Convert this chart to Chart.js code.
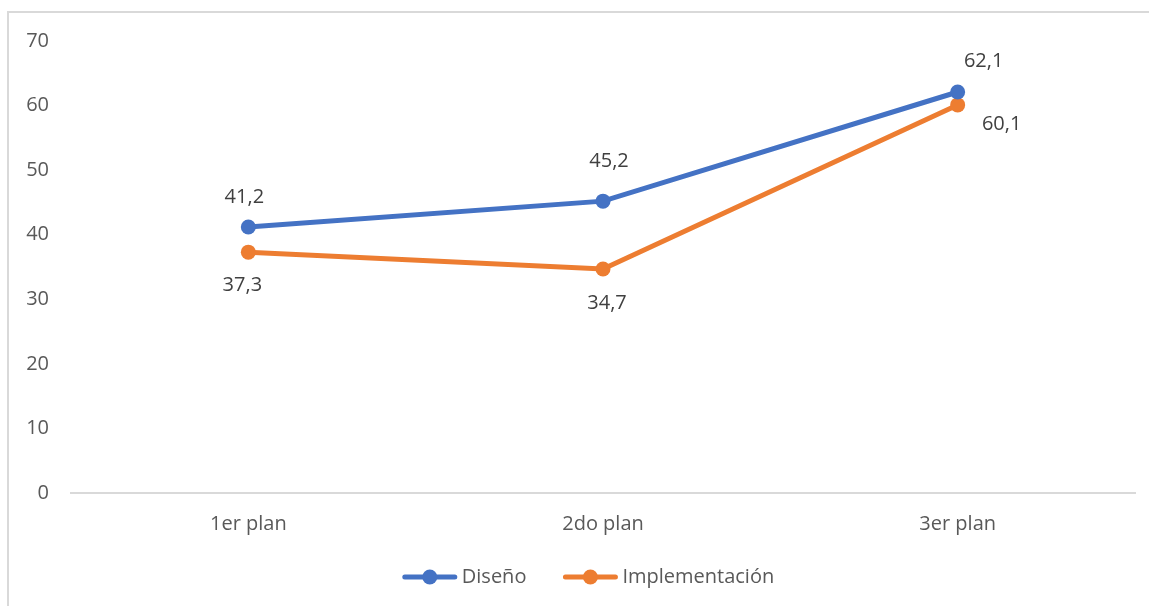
<!DOCTYPE html>
<html>
<head>
<meta charset="utf-8">
<script src="https://cdn.jsdelivr.net/npm/chart.js@4/dist/chart.umd.min.js"></script>
<style>
  body { margin: 0; background: #fff; }
  #wrap { position: relative; width: 1149px; height: 606px; overflow: hidden; }
  #frame { position: absolute; left: 7px; top: 11px; width: 1200px; height: 700px; border: 2px solid #d9d9d9; box-sizing: border-box; }
  canvas { position: absolute; left: 0; top: 0; }
</style>
</head>
<body>
<div id="wrap">
  <div id="frame"></div>
  <canvas id="chart" width="1149" height="606"></canvas>
</div>
<script>
// datos del grafico
const categories = ["1er plan", "2do plan", "3er plan"];
const disenoValues = [41.2, 45.2, 62.1];
const implementacionValues = [37.3, 34.7, 60.1];
const yTicks = [0, 10, 20, 30, 40, 50, 60, 70];

// desplazamiento de las etiquetas de datos respecto al punto [dx, dy]
const disenoLabelOffsets = [[-4, -30], [6, -40], [26, -31]];
const implementacionLabelOffsets = [[-6, 33], [4, 34], [44, 19]];

const FONT = "'Open Sans', sans-serif";
const FONT_SIZE = 20;

const valueLabels = {
	id: "valueLabels",
	afterDatasetsDraw(chart) {
		const ctx = chart.ctx;
		ctx.save();
		ctx.font = FONT_SIZE + "px " + FONT;
		ctx.fillStyle = "#404040";
		ctx.textAlign = "center";
		ctx.textBaseline = "middle";
		chart.data.datasets.forEach((ds, i) => {
			const meta = chart.getDatasetMeta(i);
			meta.data.forEach((pt, j) => {
				const txt = ds.data[j].toFixed(1).replace(".", ",");
				const off = ds.labelOffsets[j];
				ctx.fillText(txt, pt.x + off[0], pt.y + off[1]);
			});
		});
		ctx.restore();
	}
}

// leyenda abajo: linea con circulo + texto
const lineLegend = {
	id: "lineLegend",
	afterDraw(chart) {
		const ctx = chart.ctx;
		const markerW = 56, gapText = 4, gapItem = 36;
		ctx.save();
		ctx.font = FONT_SIZE + "px " + FONT;
		const items = chart.data.datasets.map(ds => ({
			ds: ds,
			w: markerW + gapText + ctx.measureText(ds.label).width
		}));
		const total = items.reduce((s, it) => s + it.w, 0) + gapItem * (items.length - 1);
		const center = (chart.chartArea.left + chart.chartArea.right) / 2 - 15;
		const y = 577;
		let x = center - total / 2;
		items.forEach(it => {
			const color = it.ds.borderColor;
			ctx.strokeStyle = color;
			ctx.lineWidth = 5;
			ctx.lineCap = "round";
			ctx.beginPath();
			ctx.moveTo(x + 3, y);
			ctx.lineTo(x + markerW - 3, y);
			ctx.stroke();
			ctx.fillStyle = color;
			ctx.beginPath();
			ctx.arc(x + markerW / 2, y, 7.5, 0, Math.PI * 2);
			ctx.fill();
			ctx.fillStyle = "#595959";
			ctx.textAlign = "left";
			ctx.textBaseline = "middle";
			ctx.fillText(it.ds.label, x + markerW + gapText, y);
			x += it.w + gapItem;
		});
		ctx.restore();
	}
}

const makeDataset = function(label, values, color, labelOffsets) {
	return {
		label: label,
		data: values,
		borderColor: color,
		backgroundColor: color,
		borderWidth: 5,
		pointRadius: 7.5,
		pointHoverRadius: 7.5,
		pointBorderWidth: 0,
		tension: 0,
		labelOffsets: labelOffsets
	}
}

new Chart(document.getElementById("chart"), {
	type: "line",
	data: {
		labels: categories,
		datasets: [
			makeDataset("Diseño", disenoValues, "#4472C4", disenoLabelOffsets),
			makeDataset("Implementación", implementacionValues, "#ED7D31", implementacionLabelOffsets)
		]
	},
	options: {
		responsive: false,
		animation: false,
		layout: { padding: { left: 0, right: 14, top: 41, bottom: 51 } },
		scales: {
			x: {
				offset: true,
				grid: { display: false, drawTicks: false },
				border: { display: true, color: "#d9d9d9", width: 2 },
				ticks: { color: "#595959", font: { family: FONT, size: FONT_SIZE }, padding: 19 }
			},
			y: {
				min: 0,
				max: 70,
				afterBuildTicks: scale => { scale.ticks = yTicks.map(v => ({ value: v })); },
				afterFit: scale => { scale.width = 71; },
				grid: { display: false, drawTicks: false },
				border: { display: false },
				ticks: { color: "#595959", font: { family: FONT, size: FONT_SIZE }, padding: 22 }
			}
		},
		plugins: {
			tooltip: { enabled: false },
			legend: { display: false }
		}
	},
	plugins: [valueLabels, lineLegend]
});
</script>
</body>
</html>
